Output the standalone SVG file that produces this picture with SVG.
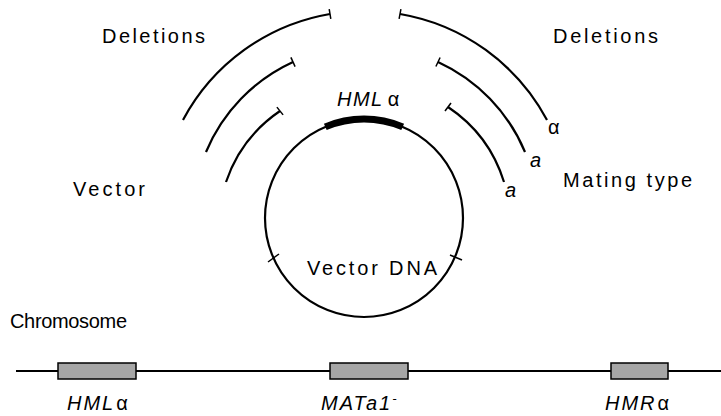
<svg xmlns="http://www.w3.org/2000/svg" width="721" height="416" viewBox="0 0 721 416">
<style>
.t{font-family:"Liberation Sans",Arial,sans-serif;font-size:20px;fill:#000}
.i{font-style:italic}
.sp{letter-spacing:2px}
.arc{fill:none;stroke:#000;stroke-width:2.2}
.tick{stroke:#000;stroke-width:1.5}
.box{fill:#a6a6a6;stroke:#000;stroke-width:1.5}
</style>
<rect width="721" height="416" fill="#fff"/>
<g id="labels">
<text class="t" x="102" y="43" textLength="103" lengthAdjust="spacing">Deletions</text>
<text class="t" x="553" y="43" textLength="105" lengthAdjust="spacing">Deletions</text>
<text class="t" x="73" y="196" textLength="72" lengthAdjust="spacing">Vector</text>
<text class="t" x="563" y="187" textLength="129" lengthAdjust="spacing">Mating type</text>
<text class="t" x="10" y="328" textLength="117" lengthAdjust="spacing">Chromosome</text>
</g>
<g id="vector-dna">
<circle class="arc" cx="364" cy="218" r="99"/>
<path d="M325.3,126.9 A99,99 0 0 1 402.7,126.9" fill="none" stroke="#000" stroke-width="7"/>
<line class="tick" x1="268" y1="262" x2="279" y2="254"/>
<line class="tick" x1="450" y1="255" x2="462" y2="260"/>
<text class="t" x="307" y="275" textLength="130" lengthAdjust="spacing">Vector DNA</text>
<text class="t" x="337" y="106" font-size="18" letter-spacing="1.5"><tspan class="i">HML</tspan><tspan dx="4">α</tspan></text>
</g>
<g id="deletions-left">
<path class="arc" d="M183,120 A206,206 0 0 1 330,14"/>
<line class="tick" x1="330.8" y1="18.9" x2="329.2" y2="9.1"/>
<path class="arc" d="M206,152 A172,172 0 0 1 293,62"/>
<line class="tick" x1="295.1" y1="66.6" x2="290.9" y2="57.4"/>
<path class="arc" d="M226,182 A140,140 0 0 1 280,111"/>
<line class="tick" x1="283.1" y1="114.9" x2="276.9" y2="107.1"/>
</g>
<g id="deletions-right">
<path class="arc" d="M400,14 A206,206 0 0 1 547,120"/>
<line class="tick" x1="399.1" y1="18.9" x2="400.9" y2="9.1"/>
<path class="arc" d="M438,62 A172,172 0 0 1 525,152"/>
<line class="tick" x1="435.9" y1="66.5" x2="440.1" y2="57.5"/>
<path class="arc" d="M448,107 A140,140 0 0 1 504,182"/>
<line class="tick" x1="445" y1="111" x2="451" y2="103"/>
<text class="t" x="548" y="134" font-size="18">α</text>
<text class="t i" x="530" y="167" font-size="18">a</text>
<text class="t i" x="505" y="197" font-size="18">a</text>
</g>
<g id="chromosome">
<line x1="16" y1="371" x2="721" y2="371" stroke="#000" stroke-width="2.2"/>
<rect class="box" x="58" y="363" width="78" height="16"/>
<rect class="box" x="330" y="363" width="78" height="16"/>
<rect class="box" x="611" y="363" width="57" height="16"/>
<text class="t sp" x="67" y="410" font-size="18"><tspan class="i">HML</tspan><tspan dx="1">α</tspan></text>
<text class="t i sp" x="321" y="410" font-size="18">MATa1<tspan dy="-7" font-size="13">-</tspan></text>
<text class="t sp" x="605" y="410" font-size="18"><tspan class="i">HMR</tspan><tspan dx="1">α</tspan></text>
</g>
</svg>
